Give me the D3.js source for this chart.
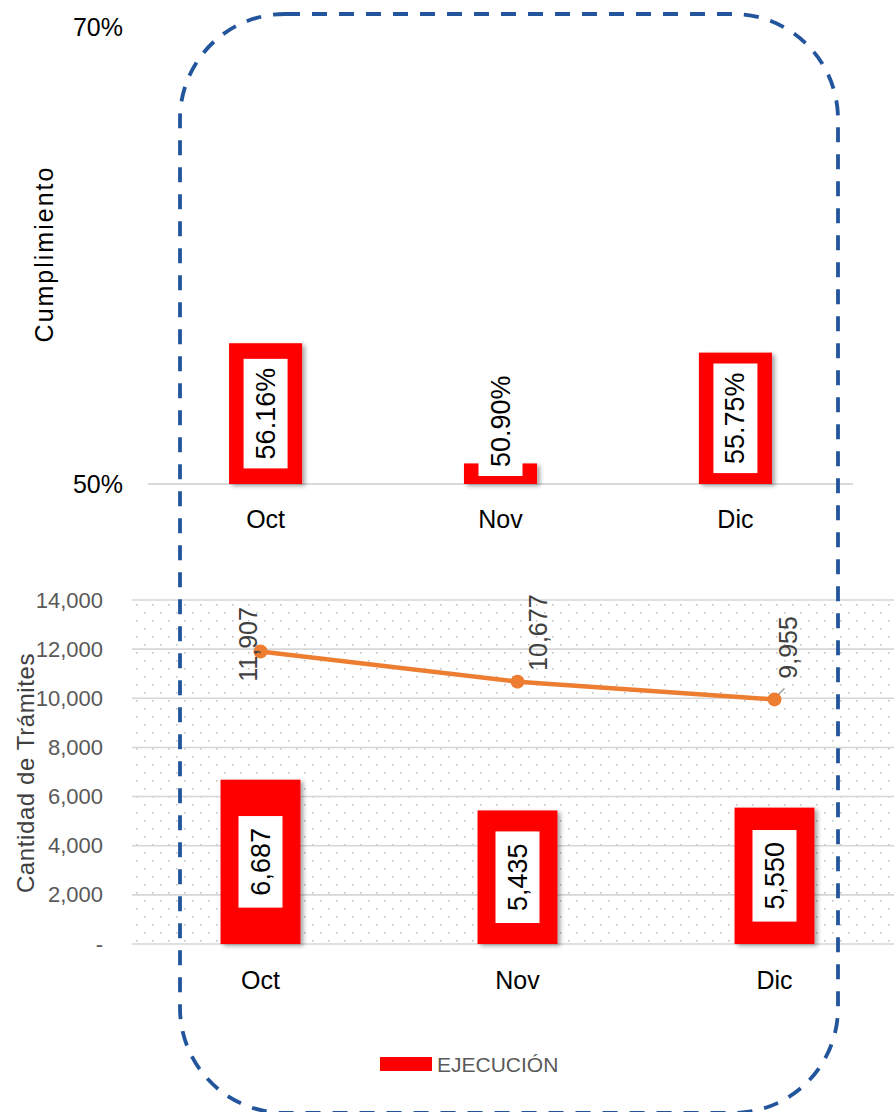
<!DOCTYPE html>
<html>
<head>
<meta charset="utf-8">
<script src="https://cdn.jsdelivr.net/npm/d3@7"></script>
<style>
html,body{margin:0;padding:0;background:#fff;}
svg{display:block;font-family:"Liberation Sans",Arial,sans-serif;}
</style>
</head>
<body>
<svg id="chart" width="894" height="1112"></svg>
<script>
// ---- data ----
const months = ["Oct", "Nov", "Dic"];
const cumplimiento = [0.5616, 0.5090, 0.5575];
const ejecucion = [6687, 5435, 5550];
const meta = [11907, 10677, 9955];
const pctTicks = [0.5, 0.7];
const qtyTicks = [0, 2000, 4000, 6000, 8000, 10000, 12000, 14000];
const legendLabel = "EJECUCIÓN";
const titleTop = "Cumplimiento";
const titleBottom = "Cantidad de Trámites";

// ---- layout ----
const svg = d3.select("#chart");
const RED = "#FF0000", ORANGE = "#ED7D31";
const defs = svg.append("defs");
const f = defs.append("filter").attr("id", "sh").attr("x", "-20%").attr("y", "-20%").attr("width", "150%").attr("height", "150%");
f.append("feDropShadow").attr("dx", 3).attr("dy", 2).attr("stdDeviation", 2.2)
  .attr("flood-color", "#000").attr("flood-opacity", 0.35);
const pat = defs.append("pattern").attr("id", "dots").attr("patternUnits", "userSpaceOnUse")
  .attr("x", 132).attr("y", 600).attr("width", 16).attr("height", 16);
pat.append("rect").attr("x", 4).attr("y", 4).attr("width", 1.6).attr("height", 1.6).attr("fill", "#c2c2c2");
pat.append("rect").attr("x", 12).attr("y", 12).attr("width", 1.6).attr("height", 1.6).attr("fill", "#c2c2c2");

// ===== top chart =====
const xTop = d3.scaleBand().domain(months).range([148, 853]).paddingInner(0.689).paddingOuter(0.345);
const yTop = d3.scaleLinear().domain([0.5, 0.7]).range([484, 27]);

svg.append("line").attr("x1", 148).attr("x2", 853).attr("y1", yTop(0.5)).attr("y2", yTop(0.5))
  .attr("stroke", "#d9d9d9").attr("stroke-width", 2);

const gTop = svg.append("g");
gTop.selectAll("rect.bar").data(months).join("rect").attr("class", "bar")
  .attr("x", d => xTop(d)).attr("width", xTop.bandwidth())
  .attr("y", (d, i) => yTop(cumplimiento[i]))
  .attr("height", (d, i) => yTop(0.5) - yTop(cumplimiento[i]))
  .attr("fill", RED).attr("filter", "url(#sh)");

months.forEach((m, i) => {
  const txt = d3.format(".2%")(cumplimiento[i]);
  const cx = xTop(m) + xTop.bandwidth() / 2;
  const tmp = gTop.append("text").attr("font-size", 27).text(txt);
  const len = tmp.node().getComputedTextLength();
  tmp.remove();
  const h = len + 18, w = 44;
  const mid = (yTop(cumplimiento[i]) + yTop(0.5)) / 2;
  const cy = Math.min(mid, yTop(0.5) - 8 - h / 2);
  gTop.append("rect").attr("x", cx - w / 2).attr("y", cy - h / 2).attr("width", w).attr("height", h).attr("fill", "#fff");
  gTop.append("text").attr("transform", `translate(${cx},${cy}) rotate(-90)`)
    .attr("text-anchor", "middle").attr("dominant-baseline", "central")
    .attr("font-size", 27).attr("fill", "#000").text(txt);
});

svg.append("g").selectAll("text").data(pctTicks).join("text")
  .attr("x", 123).attr("y", d => yTop(d)).attr("text-anchor", "end").attr("dominant-baseline", "central")
  .attr("font-size", 25).attr("fill", "#000").text(d => d3.format(".0%")(d));

svg.append("g").selectAll("text").data(months).join("text")
  .attr("x", d => xTop(d) + xTop.bandwidth() / 2).attr("y", 519)
  .attr("text-anchor", "middle").attr("dominant-baseline", "central")
  .attr("font-size", 25).attr("fill", "#000").text(d => d);

svg.append("text").attr("transform", "translate(44,254) rotate(-90)")
  .attr("text-anchor", "middle").attr("dominant-baseline", "central")
  .attr("font-size", 25).attr("letter-spacing", 2).attr("fill", "#000").text(titleTop);

// ===== bottom chart =====
const xBot = d3.scaleBand().domain(months).range([132, 903]).paddingInner(0.689).paddingOuter(0.3445);
const yBot = d3.scaleLinear().domain([0, 14000]).range([944, 600]);

svg.append("rect").attr("x", 132).attr("y", yBot(14000)).attr("width", 762)
  .attr("height", yBot(0) - yBot(14000)).attr("fill", "url(#dots)");

svg.append("g").selectAll("line").data(qtyTicks).join("line")
  .attr("x1", 132).attr("x2", 894).attr("y1", d => yBot(d)).attr("y2", d => yBot(d))
  .attr("stroke", "#d6d6d6").attr("stroke-width", 1.6);

svg.append("g").selectAll("text").data(qtyTicks).join("text")
  .attr("x", 103).attr("y", d => yBot(d)).attr("text-anchor", "end").attr("dominant-baseline", "central")
  .attr("font-size", 22).attr("fill", "#595959").text(d => d === 0 ? "-" : d3.format(",")(d));

const gBot = svg.append("g");
gBot.selectAll("rect.bar").data(months).join("rect").attr("class", "bar")
  .attr("x", d => xBot(d)).attr("width", xBot.bandwidth())
  .attr("y", (d, i) => yBot(ejecucion[i]))
  .attr("height", (d, i) => yBot(0) - yBot(ejecucion[i]))
  .attr("fill", RED).attr("filter", "url(#sh)");

months.forEach((m, i) => {
  const txt = d3.format(",")(ejecucion[i]);
  const cx = xBot(m) + xBot.bandwidth() / 2;
  const tmp = gBot.append("text").attr("font-size", 27).text(txt);
  const len = tmp.node().getComputedTextLength();
  tmp.remove();
  const h = len + 24, w = 44;
  const cy = (yBot(ejecucion[i]) + yBot(0)) / 2;
  gBot.append("rect").attr("x", cx - w / 2).attr("y", cy - h / 2).attr("width", w).attr("height", h).attr("fill", "#fff");
  gBot.append("text").attr("transform", `translate(${cx},${cy}) rotate(-90)`)
    .attr("text-anchor", "middle").attr("dominant-baseline", "central")
    .attr("font-size", 27).attr("fill", "#000").text(txt);
});

// line
const px = m => xBot(m) + xBot.bandwidth() / 2;
const line = d3.line().x((d, i) => px(months[i])).y(d => yBot(d));
svg.append("path").datum(meta).attr("d", line).attr("fill", "none")
  .attr("stroke", ORANGE).attr("stroke-width", 4.5).attr("stroke-linecap", "round");

// label offsets relative to each point (dx, dy of label centre)
const lineLabelOffset = [[-13, -7], [20, -49], [13, -52]];
const leader = [false, false, true];
months.forEach((m, i) => {
  const x = px(m), y = yBot(meta[i]);
  if (leader[i]) {
    svg.append("line").attr("x1", x + 2).attr("y1", y - 3).attr("x2", x + 10).attr("y2", y - 11)
      .attr("stroke", "#a6a6a6").attr("stroke-width", 1.5);
  }
});
svg.append("g").selectAll("circle").data(meta).join("circle")
  .attr("cx", (d, i) => px(months[i])).attr("cy", d => yBot(d)).attr("r", 7).attr("fill", ORANGE);
months.forEach((m, i) => {
  const x = px(m) + lineLabelOffset[i][0], y = yBot(meta[i]) + lineLabelOffset[i][1];
  svg.append("text").attr("transform", `translate(${x},${y}) rotate(-90)`)
    .attr("text-anchor", "middle").attr("dominant-baseline", "central")
    .attr("font-size", 25).attr("fill", "#404040").text(d3.format(",")(meta[i]));
});

svg.append("g").selectAll("text").data(months).join("text")
  .attr("x", d => px(d)).attr("y", 980)
  .attr("text-anchor", "middle").attr("dominant-baseline", "central")
  .attr("font-size", 25).attr("fill", "#000").text(d => d);

svg.append("text").attr("transform", "translate(25,773) rotate(-90)")
  .attr("text-anchor", "middle").attr("dominant-baseline", "central")
  .attr("font-size", 24).attr("letter-spacing", 0.6).attr("fill", "#404040").text(titleBottom);

// legend
svg.append("rect").attr("x", 380).attr("y", 1057).attr("width", 52).attr("height", 14).attr("fill", RED);
svg.append("text").attr("x", 437).attr("y", 1064).attr("dominant-baseline", "central")
  .attr("font-size", 21).attr("fill", "#595959").text(legendLabel);

// dashed rounded frame
svg.append("rect").attr("x", 180).attr("y", 14).attr("width", 658).attr("height", 1099)
  .attr("rx", 105).attr("ry", 105).attr("fill", "none")
  .attr("stroke", "#22559B").attr("stroke-width", 3.8).attr("stroke-dasharray", "15 12");
</script>
</body>
</html>
